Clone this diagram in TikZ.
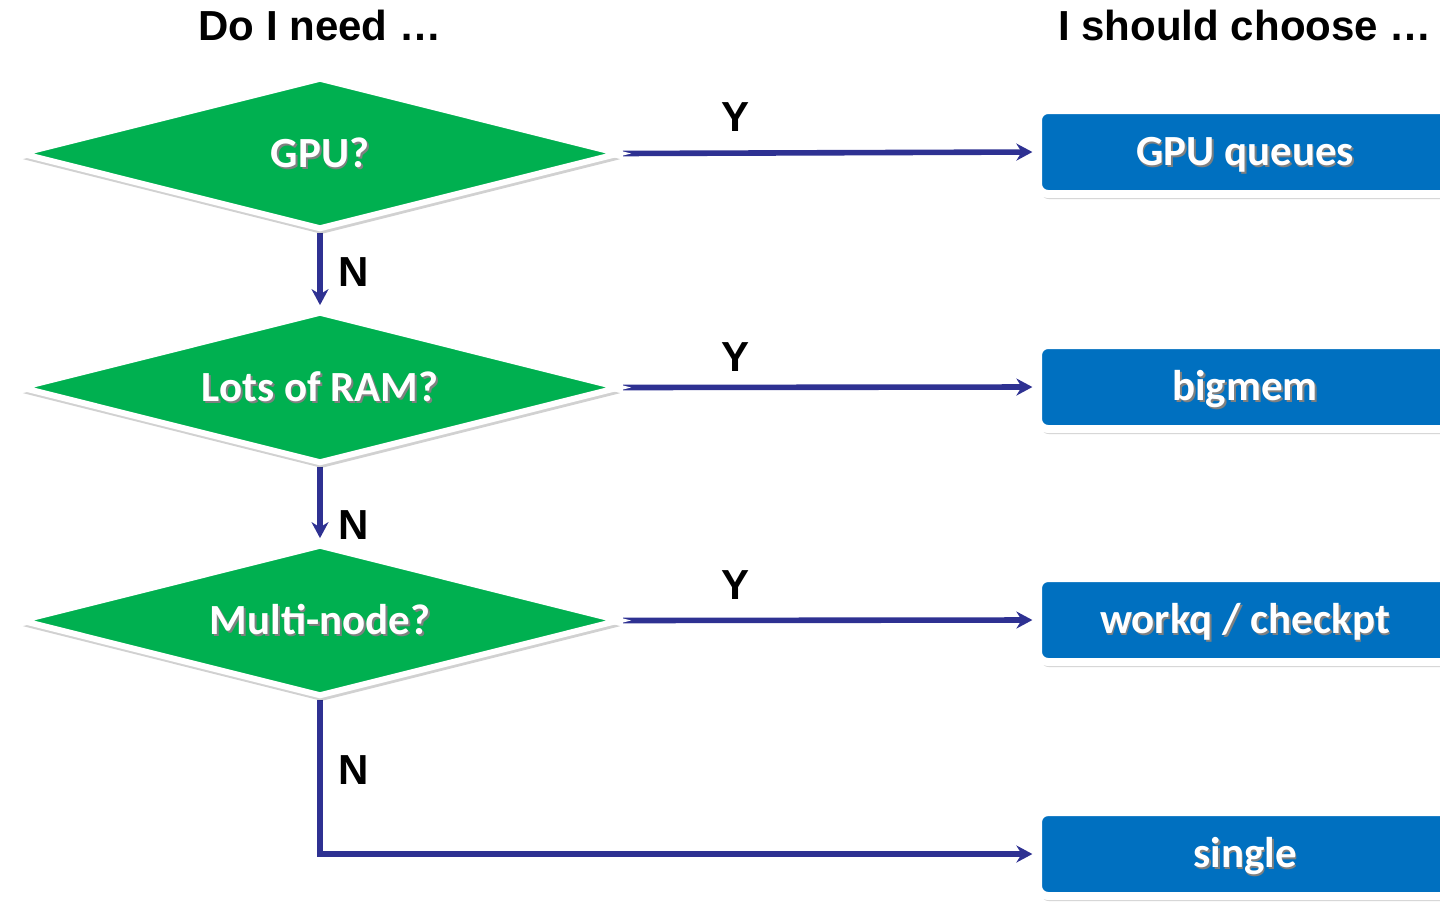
\documentclass[tikz,border=0pt]{standalone}
\usepackage{fontspec}
\setmainfont{Liberation Sans}
\newfontfamily\carlito{Carlito}
\usetikzlibrary{shapes.geometric,shadows,arrows.meta,backgrounds}
\definecolor{dgreen}{HTML}{00B050}
\definecolor{qblue}{HTML}{0070C0}
\definecolor{navy}{HTML}{2E3192}
\newcommand{\shadowtxt}[1]{\leavevmode\rlap{\kern0.9pt\raisebox{-0.9pt}{\textcolor{black!50}{#1}}}#1}
\begin{document}
\begin{tikzpicture}[x=0.5pt,y=-0.5pt,
  decision/.style={diamond, aspect=4, fill=dgreen, draw=white, line width=3pt, inner sep=0pt,
    minimum width=300pt, minimum height=76pt, text height=13.9pt, text depth=0pt,
    drop shadow={shadow xshift=0.8pt, shadow yshift=-2.8pt, opacity=0.18, fill=black},
    text=white, font=\carlito\bfseries\fontsize{21.5}{24}\selectfont},
  choice/.style={rectangle, rounded corners=5pt, fill=qblue, draw=white, line width=4pt,
    minimum width=207pt, minimum height=42pt, inner sep=0pt, text height=13.9pt, text depth=0pt,
    drop shadow={shadow xshift=0.8pt, shadow yshift=-2.6pt, opacity=0.18, fill=black},
    text=white, font=\carlito\bfseries\fontsize{21.5}{24}\selectfont},
  head/.style={font=\bfseries\fontsize{21}{24}\selectfont, text=black},
  yn/.style={font=\bfseries\fontsize{21}{24}\selectfont, text=black},
  flow/.style={draw=navy, line width=2.8pt, -{Stealth[length=8pt,width=8.5pt]}}
]
\useasboundingbox (0,0) rectangle (1440,901);
\clip (0,0) rectangle (1440,901);

\node[head] (h1) at (320,25) {Do I need \dots};
\node[head] (h2) at (1245,25) {I should choose \dots};

\node[decision] (gpu) at (320,153.5) {\shadowtxt{GPU?}};
\node[decision] (ram) at (320,387.5) {\shadowtxt{Lots of RAM?}};
\node[decision] (multi) at (320,620.5) {\shadowtxt{Multi-node?}};

\node[choice] (gpuq) at (1245,152) {\shadowtxt{GPU queues}};
\node[choice] (bigmem) at (1245,387) {\shadowtxt{bigmem}};
\node[choice] (workq) at (1245,620) {\shadowtxt{workq / checkpt}};
\node[choice] (single) at (1245,854) {\shadowtxt{single}};

\begin{scope}[on background layer]
\draw[flow, shorten >=0.8pt] (gpu.east) -- (gpuq.west);
\draw[flow, shorten >=0.8pt] (ram.east) -- (bigmem.west);
\draw[flow, shorten >=0.8pt] (multi.east) -- (workq.west);
\draw[flow, shorten >=1.7pt] (gpu.south) -- (ram.north);
\draw[flow, shorten >=1.7pt] (ram.south) -- (multi.north);
\draw[flow, shorten >=0.8pt] (multi.south) |- (single.west);
\end{scope}

\node[yn] (y1) at (735,117) {Y};
\node[yn] (y2) at (735,357) {Y};
\node[yn] (y3) at (735,585) {Y};
\node[yn] (n1) at (354,272) {N};
\node[yn] (n2) at (354,525) {N};
\node[yn] (n3) at (354,770) {N};
\end{tikzpicture}
\end{document}
